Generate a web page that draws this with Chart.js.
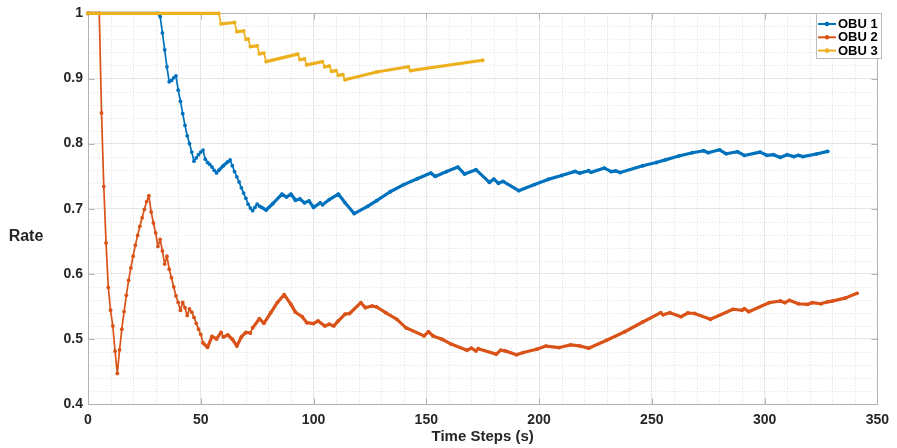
<!DOCTYPE html>
<html>
<head>
<meta charset="utf-8">
<script src="https://cdn.jsdelivr.net/npm/chart.js@4.4.1/dist/chart.umd.min.js"></script>
<style>
html,body{margin:0;padding:0;background:#fff;}
#wrap{width:897px;height:448px;}
</style>
</head>
<body>
<div id="wrap"><canvas id="c" width="897" height="448"></canvas></div>
<script>
// ---------- data ----------
const seriesNames = ['OBU 1', 'OBU 2', 'OBU 3'];
const seriesColors = ['#0072BD', '#D95319', '#EDB120'];

const obu1Time = [0,31,32,33,34,35,36,37,38,39,40,41,42,43,44,45,46,47,48,49,50,51,52,53,54,55,56,57,58,60,62,63,64,65,66,67,68,69,70,71,72,73,74,75,76,77,79,82,86,88,90,92,94,96,98,100,103,104,107,111,114,118,124,128,134,140,146,152,154,159,164,167,172,178,180,182,184,191,198,204,210,216,218,222,223,229,232,234,236,246,252,256,262,268,273,275,280,283,288,291,298,301,304,307,310,313,315,317,323,328];
const obu1Rate = [1,1,0.995,0.970,0.944,0.918,0.895,0.897,0.901,0.904,0.882,0.865,0.846,0.828,0.812,0.800,0.787,0.773,0.778,0.783,0.787,0.790,0.776,0.771,0.768,0.764,0.759,0.755,0.759,0.766,0.772,0.775,0.766,0.757,0.749,0.741,0.732,0.724,0.716,0.707,0.701,0.697,0.702,0.707,0.704,0.702,0.698,0.708,0.7225,0.718,0.7225,0.713,0.715,0.709,0.712,0.702,0.709,0.706,0.714,0.7225,0.709,0.6925,0.7037,0.7124,0.726,0.737,0.746,0.7547,0.7496,0.757,0.7639,0.7532,0.7599,0.7404,0.7455,0.739,0.742,0.7277,0.737,0.745,0.751,0.7573,0.7547,0.7583,0.7558,0.7624,0.757,0.758,0.7555,0.766,0.771,0.775,0.781,0.786,0.789,0.786,0.7905,0.7844,0.7875,0.7818,0.7869,0.782,0.783,0.7787,0.783,0.780,0.782,0.780,0.784,0.788];

const obu2Time = [0,5,6,7,8,9,10,11,12,13,14,15,16,17,18,19,20,21,22,23,24,25,26,27,28,29,30,31,32,33,34,35,36,37,38,39,40,41,42,43,44,45,46,47,48,49,50,51,53,55,57,59,60,62,64,66,68,70,72,73,76,78,81,84,87,90,92,95,97,100,102,105,107,109,111,114,116,121,123,126,128,132,137,141,149,151,153,157,161,168,170,172,173,181,183,185,190,193,199,203,209,214,218,222,230,238,246,254,255,258,263,266,269,276,286,290,291,293,302,307,309,311,315,319,321,325,328,330,336,341];
const obu2Rate = [1,1,0.847,0.734,0.6475,0.579,0.544,0.520,0.481,0.447,0.483,0.515,0.542,0.567,0.590,0.609,0.627,0.644,0.659,0.673,0.686,0.699,0.711,0.720,0.695,0.678,0.663,0.642,0.653,0.635,0.615,0.627,0.607,0.594,0.580,0.566,0.556,0.544,0.556,0.548,0.536,0.546,0.541,0.533,0.524,0.515,0.507,0.494,0.487,0.504,0.500,0.510,0.503,0.506,0.4995,0.489,0.503,0.510,0.509,0.517,0.531,0.524,0.540,0.556,0.568,0.553,0.541,0.534,0.525,0.5235,0.5276,0.520,0.5225,0.520,0.5276,0.538,0.539,0.5556,0.548,0.5505,0.549,0.5403,0.530,0.517,0.5046,0.511,0.5046,0.4995,0.492,0.4826,0.4857,0.4816,0.485,0.4766,0.4826,0.4816,0.4755,0.479,0.4842,0.489,0.4867,0.4908,0.4893,0.4857,0.498,0.511,0.526,0.5403,0.537,0.5403,0.5342,0.5398,0.539,0.5302,0.5455,0.544,0.5465,0.5418,0.5556,0.5582,0.5556,0.5593,0.554,0.553,0.5556,0.554,0.557,0.558,0.563,0.570];

const obu3Time = [0,58,59,65,66,69,70,71,72,75,76,78,79,93,94,96,97,104,105,107,108,110,111,113,114,128,142,143,175];
const obu3Rate = [1,1,0.984,0.986,0.972,0.973,0.960,0.961,0.949,0.950,0.938,0.939,0.926,0.9375,0.929,0.930,0.921,0.926,0.918,0.919,0.911,0.912,0.905,0.906,0.898,0.910,0.918,0.912,0.928];

const xTicks = [0, 50, 100, 150, 200, 250, 300, 350];
const yTicks = [0.4, 0.5, 0.6, 0.7, 0.8, 0.9, 1];
const xAxisTitle = 'Time Steps (s)';
const yAxisTitle = 'Rate';

// ---------- build ----------
const FONT = '"Liberation Sans", Arial, Helvetica, sans-serif';
const TEXT = '#262626';
const seriesTimes = [obu1Time, obu2Time, obu3Time];
const seriesRates = [obu1Rate, obu2Rate, obu3Rate];

function widthFor(times) {
  return function (ctx) {
    const dt = times[ctx.p1DataIndex] - times[ctx.p0DataIndex];
    return dt > 1.5 ? 3.2 : 1.7;
  };
}

const datasets = seriesNames.map((name, i) => ({
  label: name,
  data: seriesTimes[i].map((t, k) => ({ x: t, y: seriesRates[i][k] })),
  borderColor: seriesColors[i],
  backgroundColor: seriesColors[i],
  borderWidth: 2,
  pointRadius: 1.9,
  pointBorderWidth: 0,
  pointHoverRadius: 0,
  borderCapStyle: 'round',
  borderJoinStyle: 'round',
  tension: 0,
  clip: false,
  order: seriesNames.length - 1 - i,   // later series drawn on top (as in the reference)
  segment: { borderWidth: widthFor(seriesTimes[i]) }
}));

const xMinor = [];
for (let v = xTicks[0]; v <= xTicks[xTicks.length - 1]; v += 10) if (v % 50 !== 0) xMinor.push(v);
const yMinor = [];
for (let k = 40; k <= 100; k += 2) if (k % 10 !== 0) yMinor.push(k / 100);

const decor = {
  id: 'decor',
  beforeDatasetsDraw(chart) {
    const { ctx, chartArea: a, scales: { x, y } } = chart;
    ctx.save();
    ctx.lineWidth = 1;
    ctx.strokeStyle = '#dedede';
    ctx.setLineDash([1, 2]);
    xMinor.forEach(v => {
      const px = Math.round(x.getPixelForValue(v)) + 0.5;
      ctx.beginPath(); ctx.moveTo(px, a.top); ctx.lineTo(px, a.bottom); ctx.stroke();
    });
    yMinor.forEach(v => {
      const py = Math.round(y.getPixelForValue(v)) + 0.5;
      ctx.beginPath(); ctx.moveTo(a.left, py); ctx.lineTo(a.right, py); ctx.stroke();
    });
    ctx.setLineDash([]);
    // box
    ctx.strokeStyle = '#b3b3b3';
    const L = Math.round(a.left) + 0.5, R = Math.round(a.right) + 0.5;
    const T = Math.round(a.top) + 0.5, B = Math.round(a.bottom) + 0.5;
    ctx.strokeRect(L, T, R - L, B - T);
    // inward tick marks
    ctx.beginPath();
    xTicks.forEach(v => {
      const px = Math.round(x.getPixelForValue(v)) + 0.5;
      ctx.moveTo(px, B); ctx.lineTo(px, B - 6);
      ctx.moveTo(px, T); ctx.lineTo(px, T + 6);
    });
    yTicks.forEach(v => {
      const py = Math.round(y.getPixelForValue(v)) + 0.5;
      ctx.moveTo(L, py); ctx.lineTo(L + 6, py);
      ctx.moveTo(R, py); ctx.lineTo(R - 6, py);
    });
    ctx.stroke();
    ctx.restore();
  },
  afterDraw(chart) {
    const { ctx } = chart;
    ctx.save();
    // horizontal y-axis title
    ctx.fillStyle = TEXT;
    ctx.font = 'bold 16px ' + FONT;
    ctx.textAlign = 'center';
    ctx.textBaseline = 'middle';
    ctx.fillText(yAxisTitle, 26, 237);
    // legend box
    const bx = 816.5, by = 13.5, bw = 65, bh = 45;
    ctx.fillStyle = '#ffffff';
    ctx.fillRect(bx, by, bw, bh);
    ctx.strokeStyle = '#bcbcbc';
    ctx.lineWidth = 1;
    ctx.strokeRect(bx, by, bw, bh);
    ctx.font = 'bold 13px ' + FONT;
    ctx.textAlign = 'left';
    chart.data.datasets.forEach((ds, i) => {
      const cy = 24 + i * 13.3;
      ctx.strokeStyle = ds.borderColor;
      ctx.lineWidth = 2;
      ctx.beginPath(); ctx.moveTo(818, cy); ctx.lineTo(836, cy); ctx.stroke();
      ctx.fillStyle = ds.borderColor;
      ctx.beginPath(); ctx.arc(827, cy, 2.3, 0, Math.PI * 2); ctx.fill();
      ctx.fillStyle = '#000000';
      ctx.fillText(ds.label, 838, cy + 0.5);
    });
    ctx.restore();
  }
};

new Chart(document.getElementById('c'), {
  type: 'line',
  data: { datasets },
  plugins: [decor],
  options: {
    responsive: false,
    animation: false,
    events: [],
    layout: { padding: { top: 11, right: 14, bottom: 0, left: 0 } },
    plugins: { legend: { display: false }, tooltip: { enabled: false } },
    scales: {
      x: {
        type: 'linear',
        min: xTicks[0],
        max: xTicks[xTicks.length - 1],
        afterBuildTicks: s => { s.ticks = xTicks.map(v => ({ value: v })); },
        afterFit: s => { s.height = 44; },
        ticks: { color: TEXT, font: { family: FONT, size: 14, weight: 'bold' }, padding: 8, maxRotation: 0, autoSkip: false },
        grid: { color: '#e6e6e6', drawTicks: false },
        border: { display: false },
        title: { display: true, text: xAxisTitle, color: TEXT, font: { family: FONT, size: 15, weight: 'bold' }, padding: { top: 0, bottom: 2 } }
      },
      y: {
        type: 'linear',
        min: yTicks[0],
        max: yTicks[yTicks.length - 1],
        afterBuildTicks: s => { s.ticks = yTicks.map(v => ({ value: v })); },
        afterFit: s => { s.width = 88; },
        ticks: { color: TEXT, font: { family: FONT, size: 14, weight: 'bold' }, padding: 5, callback: v => String(v) },
        grid: { color: '#e6e6e6', drawTicks: false },
        border: { display: false }
      }
    }
  }
});
</script>
</body>
</html>
